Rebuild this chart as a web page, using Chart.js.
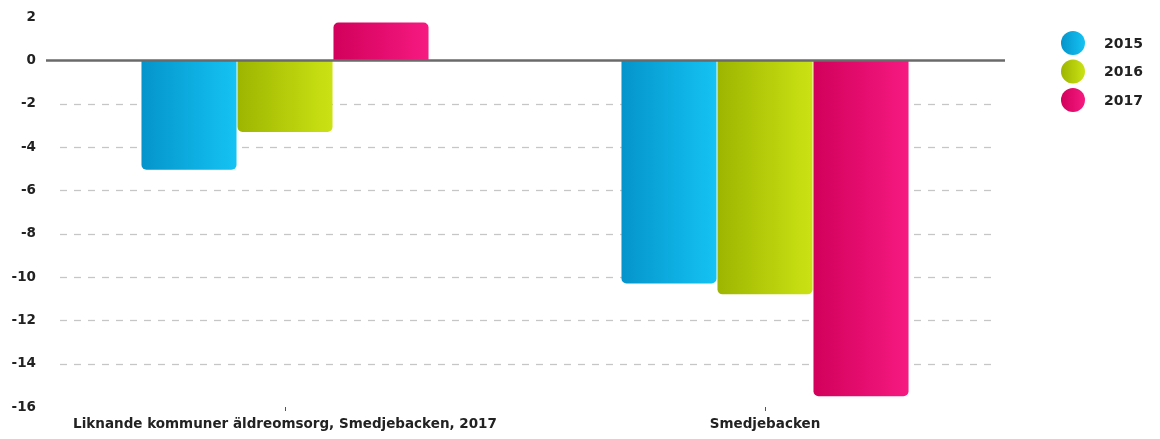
<!DOCTYPE html>
<html>
<head>
<meta charset="utf-8">
<script src="https://cdn.jsdelivr.net/npm/chart.js@4/dist/chart.umd.min.js"></script>
<style>
html,body{margin:0;padding:0;background:#fff;}
#wrap{width:1160px;height:439px;position:relative;}
</style>
</head>
<body>
<div id="wrap"><canvas id="c"></canvas></div>
<script>
const categories = ["Liknande kommuner äldreomsorg, Smedjebacken, 2017", "Smedjebacken"];
const seriesNames = ["2015", "2016", "2017"];
const values2015 = [-5.05, -10.3];
const values2016 = [-3.3, -10.8];
const values2017 = [1.75, -15.5];
const yTicks = [2, 0, -2, -4, -6, -8, -10, -12, -14, -16];
const dashedGridValues = [-2, -4, -6, -8, -10, -12, -14];

const gradStops = [
  ["#0494cb", "#15c3f3"],
  ["#9db500", "#cbe314"],
  ["#d2005b", "#f61a81"]
];
const FONT = "'DejaVu Sans', sans-serif";
const CAT_PCT = 0.6;

function barGradient(ctx) {
  const chart = ctx.chart;
  const ds = ctx.datasetIndex;
  const area = chart.chartArea;
  if (!area || ctx.type !== 'data') return gradStops[ds][1];
  const xs = chart.scales.x;
  const center = xs.getPixelForValue(ctx.dataIndex);
  const catW = (area.right - area.left) / categories.length;
  const bw = catW * CAT_PCT / seriesNames.length;
  const left = center - catW * CAT_PCT / 2 + ds * bw;
  const g = chart.ctx.createLinearGradient(left, 0, left + bw, 0);
  g.addColorStop(0, gradStops[ds][0]);
  g.addColorStop(1, gradStops[ds][1]);
  return g;
}

const dashedGrid = {
  id: 'dashedGrid',
  beforeDatasetsDraw(chart) {
    const c = chart.ctx, ys = chart.scales.y, a = chart.chartArea;
    c.save();
    c.strokeStyle = '#c6c6c6';
    c.lineWidth = 1.3;
    c.setLineDash([7, 7]);
    dashedGridValues.forEach(v => {
      const y = Math.round(ys.getPixelForValue(v)) + 0.5;
      c.beginPath();
      c.moveTo(a.left + 15, y);
      c.lineTo(a.right - 14, y);
      c.stroke();
    });
    c.restore();
  }
};

const zeroLine = {
  id: 'zeroLine',
  afterDatasetsDraw(chart) {
    const c = chart.ctx, y = chart.scales.y.getPixelForValue(0);
    c.save();
    c.strokeStyle = '#6a6a6a';
    c.lineWidth = 2.5;
    c.beginPath();
    c.moveTo(chart.chartArea.left + 1, y);
    c.lineTo(chart.chartArea.right, y);
    c.stroke();
    c.restore();
  }
};

const legendDraw = {
  id: 'legendDraw',
  afterDraw(chart) {
    const c = chart.ctx;
    c.save();
    chart.data.datasets.forEach((d, i) => {
      const cx = 1073, cy = 43 + i * 28.5, r = 12;
      const g = c.createLinearGradient(cx - r, 0, cx + r, 0);
      g.addColorStop(0, gradStops[i][0]);
      g.addColorStop(1, gradStops[i][1]);
      c.fillStyle = g;
      c.beginPath();
      c.arc(cx, cy, r, 0, Math.PI * 2);
      c.fill();
      c.fillStyle = '#222';
      c.font = "bold 14px " + FONT;
      c.textBaseline = 'middle';
      c.textAlign = 'left';
      c.fillText(d.label, 1104, cy + 1);
    });
    c.restore();
  }
};

new Chart(document.getElementById('c'), {
  type: 'bar',
  data: {
    labels: categories,
    datasets: [
      { label: seriesNames[0], data: values2015 },
      { label: seriesNames[1], data: values2016 },
      { label: seriesNames[2], data: values2017 }
    ].map(d => Object.assign(d, {
      backgroundColor: barGradient,
      borderRadius: 5,
      borderSkipped: 'start',
      categoryPercentage: CAT_PCT,
      barPercentage: 0.99
    }))
  },
  options: {
    responsive: true,
    maintainAspectRatio: false,
    animation: false,
    layout: { padding: { top: 15, right: 155, left: 0, bottom: 0 } },
    plugins: { legend: { display: false }, tooltip: { enabled: false } },
    scales: {
      x: {
        afterFit(s) { s.height = 32; },
        grid: { drawOnChartArea: false, drawTicks: true, tickLength: 4, offset: false, color: '#555', lineWidth: 1 },
        border: { display: false },
        ticks: { color: '#222', font: { family: FONT, size: 13.5, weight: 'bold' }, padding: 5, maxRotation: 0 }
      },
      y: {
        min: -16, max: 2,
        afterFit(s) { s.width = 45; },
        afterBuildTicks(s) { s.ticks = yTicks.map(v => ({ value: v })); },
        grid: { display: false, drawTicks: false },
        border: { display: false },
        ticks: { color: '#222', font: { family: FONT, size: 13.5, weight: 'bold' }, padding: 9 }
      }
    }
  },
  plugins: [dashedGrid, zeroLine, legendDraw]
});
</script>
</body>
</html>
